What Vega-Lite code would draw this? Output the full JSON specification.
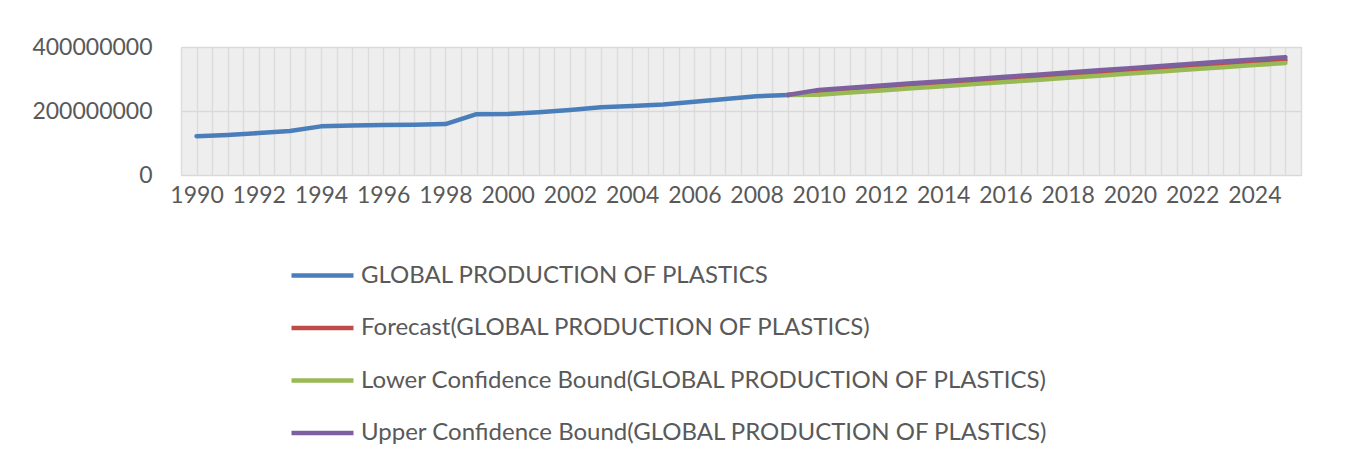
{
  "$schema": "https://vega.github.io/schema/vega-lite/v6.json",
  "width": 1120,
  "height": 128,
  "autosize": {"type": "none"},
  "padding": {"left": 181, "top": 47, "right": 46, "bottom": 292},
  "background": "white",
  "config": {
    "view": {"fill": "#eeeeee", "stroke": "#d9d9d9", "strokeWidth": 1},
    "font": "Lato"
  },
  "data": {
    "values": [
      {"year": 1990, "series": "GLOBAL PRODUCTION OF PLASTICS", "value": 121000000},
      {"year": 1991, "series": "GLOBAL PRODUCTION OF PLASTICS", "value": 125000000},
      {"year": 1992, "series": "GLOBAL PRODUCTION OF PLASTICS", "value": 131000000},
      {"year": 1993, "series": "GLOBAL PRODUCTION OF PLASTICS", "value": 137500000},
      {"year": 1994, "series": "GLOBAL PRODUCTION OF PLASTICS", "value": 152000000},
      {"year": 1995, "series": "GLOBAL PRODUCTION OF PLASTICS", "value": 155000000},
      {"year": 1996, "series": "GLOBAL PRODUCTION OF PLASTICS", "value": 156000000},
      {"year": 1997, "series": "GLOBAL PRODUCTION OF PLASTICS", "value": 157000000},
      {"year": 1998, "series": "GLOBAL PRODUCTION OF PLASTICS", "value": 159000000},
      {"year": 1999, "series": "GLOBAL PRODUCTION OF PLASTICS", "value": 190000000},
      {"year": 2000, "series": "GLOBAL PRODUCTION OF PLASTICS", "value": 190500000},
      {"year": 2001, "series": "GLOBAL PRODUCTION OF PLASTICS", "value": 196000000},
      {"year": 2002, "series": "GLOBAL PRODUCTION OF PLASTICS", "value": 203000000},
      {"year": 2003, "series": "GLOBAL PRODUCTION OF PLASTICS", "value": 211500000},
      {"year": 2004, "series": "GLOBAL PRODUCTION OF PLASTICS", "value": 215500000},
      {"year": 2005, "series": "GLOBAL PRODUCTION OF PLASTICS", "value": 220000000},
      {"year": 2006, "series": "GLOBAL PRODUCTION OF PLASTICS", "value": 229000000},
      {"year": 2007, "series": "GLOBAL PRODUCTION OF PLASTICS", "value": 237500000},
      {"year": 2008, "series": "GLOBAL PRODUCTION OF PLASTICS", "value": 246000000},
      {"year": 2009, "series": "GLOBAL PRODUCTION OF PLASTICS", "value": 250000000},

      {"year": 2009, "series": "Forecast(GLOBAL PRODUCTION OF PLASTICS)", "value": 250000000},
      {"year": 2010, "series": "Forecast(GLOBAL PRODUCTION OF PLASTICS)", "value": 258500000},
      {"year": 2011, "series": "Forecast(GLOBAL PRODUCTION OF PLASTICS)", "value": 265200000},
      {"year": 2012, "series": "Forecast(GLOBAL PRODUCTION OF PLASTICS)", "value": 271900000},
      {"year": 2013, "series": "Forecast(GLOBAL PRODUCTION OF PLASTICS)", "value": 278600000},
      {"year": 2014, "series": "Forecast(GLOBAL PRODUCTION OF PLASTICS)", "value": 285300000},
      {"year": 2015, "series": "Forecast(GLOBAL PRODUCTION OF PLASTICS)", "value": 292000000},
      {"year": 2016, "series": "Forecast(GLOBAL PRODUCTION OF PLASTICS)", "value": 298700000},
      {"year": 2017, "series": "Forecast(GLOBAL PRODUCTION OF PLASTICS)", "value": 305400000},
      {"year": 2018, "series": "Forecast(GLOBAL PRODUCTION OF PLASTICS)", "value": 312100000},
      {"year": 2019, "series": "Forecast(GLOBAL PRODUCTION OF PLASTICS)", "value": 318800000},
      {"year": 2020, "series": "Forecast(GLOBAL PRODUCTION OF PLASTICS)", "value": 325500000},
      {"year": 2021, "series": "Forecast(GLOBAL PRODUCTION OF PLASTICS)", "value": 332200000},
      {"year": 2022, "series": "Forecast(GLOBAL PRODUCTION OF PLASTICS)", "value": 338900000},
      {"year": 2023, "series": "Forecast(GLOBAL PRODUCTION OF PLASTICS)", "value": 345600000},
      {"year": 2024, "series": "Forecast(GLOBAL PRODUCTION OF PLASTICS)", "value": 352300000},
      {"year": 2025, "series": "Forecast(GLOBAL PRODUCTION OF PLASTICS)", "value": 359000000},

      {"year": 2009, "series": "Lower Confidence Bound(GLOBAL PRODUCTION OF PLASTICS)", "value": 250000000},
      {"year": 2010, "series": "Lower Confidence Bound(GLOBAL PRODUCTION OF PLASTICS)", "value": 251000000},
      {"year": 2011, "series": "Lower Confidence Bound(GLOBAL PRODUCTION OF PLASTICS)", "value": 257600000},
      {"year": 2012, "series": "Lower Confidence Bound(GLOBAL PRODUCTION OF PLASTICS)", "value": 264200000},
      {"year": 2013, "series": "Lower Confidence Bound(GLOBAL PRODUCTION OF PLASTICS)", "value": 270800000},
      {"year": 2014, "series": "Lower Confidence Bound(GLOBAL PRODUCTION OF PLASTICS)", "value": 277400000},
      {"year": 2015, "series": "Lower Confidence Bound(GLOBAL PRODUCTION OF PLASTICS)", "value": 284000000},
      {"year": 2016, "series": "Lower Confidence Bound(GLOBAL PRODUCTION OF PLASTICS)", "value": 290600000},
      {"year": 2017, "series": "Lower Confidence Bound(GLOBAL PRODUCTION OF PLASTICS)", "value": 297200000},
      {"year": 2018, "series": "Lower Confidence Bound(GLOBAL PRODUCTION OF PLASTICS)", "value": 303800000},
      {"year": 2019, "series": "Lower Confidence Bound(GLOBAL PRODUCTION OF PLASTICS)", "value": 310400000},
      {"year": 2020, "series": "Lower Confidence Bound(GLOBAL PRODUCTION OF PLASTICS)", "value": 317000000},
      {"year": 2021, "series": "Lower Confidence Bound(GLOBAL PRODUCTION OF PLASTICS)", "value": 323600000},
      {"year": 2022, "series": "Lower Confidence Bound(GLOBAL PRODUCTION OF PLASTICS)", "value": 330200000},
      {"year": 2023, "series": "Lower Confidence Bound(GLOBAL PRODUCTION OF PLASTICS)", "value": 336800000},
      {"year": 2024, "series": "Lower Confidence Bound(GLOBAL PRODUCTION OF PLASTICS)", "value": 343400000},
      {"year": 2025, "series": "Lower Confidence Bound(GLOBAL PRODUCTION OF PLASTICS)", "value": 350000000},

      {"year": 2009, "series": "Upper Confidence Bound(GLOBAL PRODUCTION OF PLASTICS)", "value": 250000000},
      {"year": 2010, "series": "Upper Confidence Bound(GLOBAL PRODUCTION OF PLASTICS)", "value": 266000000},
      {"year": 2011, "series": "Upper Confidence Bound(GLOBAL PRODUCTION OF PLASTICS)", "value": 272800000},
      {"year": 2012, "series": "Upper Confidence Bound(GLOBAL PRODUCTION OF PLASTICS)", "value": 279600000},
      {"year": 2013, "series": "Upper Confidence Bound(GLOBAL PRODUCTION OF PLASTICS)", "value": 286400000},
      {"year": 2014, "series": "Upper Confidence Bound(GLOBAL PRODUCTION OF PLASTICS)", "value": 293200000},
      {"year": 2015, "series": "Upper Confidence Bound(GLOBAL PRODUCTION OF PLASTICS)", "value": 300000000},
      {"year": 2016, "series": "Upper Confidence Bound(GLOBAL PRODUCTION OF PLASTICS)", "value": 306800000},
      {"year": 2017, "series": "Upper Confidence Bound(GLOBAL PRODUCTION OF PLASTICS)", "value": 313600000},
      {"year": 2018, "series": "Upper Confidence Bound(GLOBAL PRODUCTION OF PLASTICS)", "value": 320400000},
      {"year": 2019, "series": "Upper Confidence Bound(GLOBAL PRODUCTION OF PLASTICS)", "value": 327200000},
      {"year": 2020, "series": "Upper Confidence Bound(GLOBAL PRODUCTION OF PLASTICS)", "value": 334000000},
      {"year": 2021, "series": "Upper Confidence Bound(GLOBAL PRODUCTION OF PLASTICS)", "value": 340800000},
      {"year": 2022, "series": "Upper Confidence Bound(GLOBAL PRODUCTION OF PLASTICS)", "value": 347600000},
      {"year": 2023, "series": "Upper Confidence Bound(GLOBAL PRODUCTION OF PLASTICS)", "value": 354400000},
      {"year": 2024, "series": "Upper Confidence Bound(GLOBAL PRODUCTION OF PLASTICS)", "value": 361200000},
      {"year": 2025, "series": "Upper Confidence Bound(GLOBAL PRODUCTION OF PLASTICS)", "value": 368000000}
    ]
  },
  "mark": {"type": "line", "strokeWidth": 4.5, "strokeCap": "round", "strokeJoin": "round"},
  "encoding": {
    "x": {
      "field": "year",
      "type": "quantitative",
      "scale": {"domain": [1989.5, 2025.5], "nice": false, "zero": false},
      "axis": {
        "title": null,
        "values": [1989.5,1990,1990.5,1991,1991.5,1992,1992.5,1993,1993.5,1994,1994.5,1995,1995.5,1996,1996.5,1997,1997.5,1998,1998.5,1999,1999.5,2000,2000.5,2001,2001.5,2002,2002.5,2003,2003.5,2004,2004.5,2005,2005.5,2006,2006.5,2007,2007.5,2008,2008.5,2009,2009.5,2010,2010.5,2011,2011.5,2012,2012.5,2013,2013.5,2014,2014.5,2015,2015.5,2016,2016.5,2017,2017.5,2018,2018.5,2019,2019.5,2020,2020.5,2021,2021.5,2022,2022.5,2023,2023.5,2024,2024.5,2025,2025.5],
        "labelExpr": "datum.value % 2 == 0 ? format(datum.value, 'd') : ''",
        "labelOverlap": false,
        "labelFlush": false,
        "labelFontSize": 23,
        "labelColor": "#595959",
        "labelPadding": 9,
        "ticks": false,
        "domain": false,
        "grid": true,
        "gridColor": "#dcdcdc",
        "gridWidth": 1.5
      }
    },
    "y": {
      "field": "value",
      "type": "quantitative",
      "scale": {"domain": [0, 400000000], "nice": false},
      "axis": {
        "title": null,
        "values": [0, 200000000, 400000000],
        "format": "d",
        "labelFontSize": 23,
        "labelColor": "#595959",
        "labelPadding": 29,
        "ticks": false,
        "domain": false,
        "grid": true,
        "gridColor": "#d9d9d9",
        "gridWidth": 1.5
      }
    },
    "color": {
      "field": "series",
      "type": "nominal",
      "sort": null,
      "scale": {
        "domain": ["GLOBAL PRODUCTION OF PLASTICS", "Forecast(GLOBAL PRODUCTION OF PLASTICS)", "Lower Confidence Bound(GLOBAL PRODUCTION OF PLASTICS)", "Upper Confidence Bound(GLOBAL PRODUCTION OF PLASTICS)"],
        "range": ["#4a7ebb", "#be4b48", "#98b954", "#7d60a0"]
      },
      "legend": {
        "title": null,
        "orient": "none",
        "legendX": 108,
        "legendY": 195,
        "direction": "vertical",
        "symbolType": "stroke",
        "symbolSize": 3844,
        "symbolStrokeWidth": 4.5,
        "rowPadding": 6.5,
        "labelFontSize": 24,
        "labelColor": "#595959",
        "labelOffset": 5,
        "labelLimit": 800
      }
    },
    "order": {"field": "series"}
  }
}
